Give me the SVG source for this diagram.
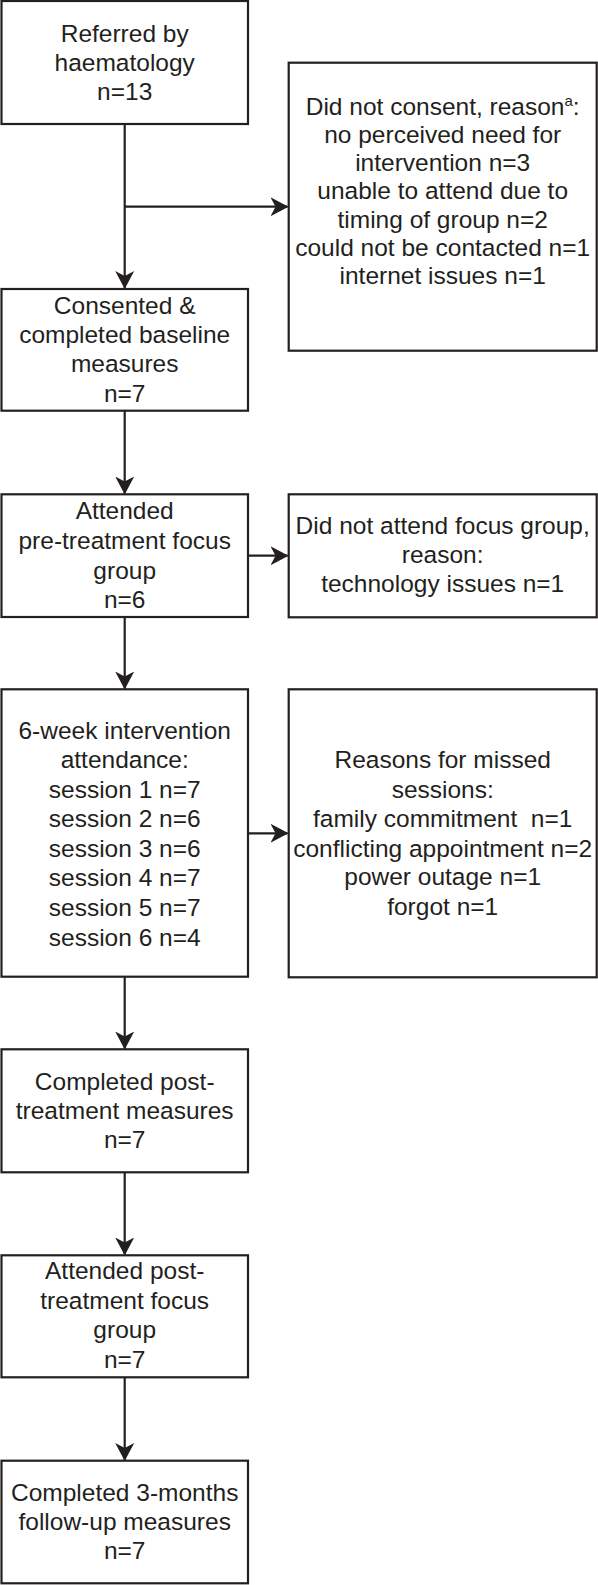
<svg xmlns="http://www.w3.org/2000/svg" width="598" height="1585" viewBox="0 0 598 1585">
<style>
.box{fill:#fff;stroke:#231f20;stroke-width:2.2}
.t{font-family:"Liberation Sans",Arial,sans-serif;font-size:24.5px;fill:#231f20;text-anchor:middle}
.c{stroke:#231f20;stroke-width:2.2;fill:none;marker-end:url(#ah)}
</style>
<defs>
<marker id="ah" markerUnits="userSpaceOnUse" viewBox="0 0 18 20" refX="17" refY="10" markerWidth="18" markerHeight="20" orient="auto">
<path d="M0,0.5 L18,10 L0,19.5 L5,10 Z" fill="#231f20"/>
</marker>
</defs>
<rect width="598" height="1585" fill="#fff"/>
<g id="connectors">
<line class="c" x1="124.7" y1="124" x2="124.7" y2="288"/>
<line class="c" x1="124.7" y1="206.7" x2="287.5" y2="206.7"/>
<line class="c" x1="124.7" y1="410.7" x2="124.7" y2="493.5"/>
<line class="c" x1="248" y1="555.7" x2="287.5" y2="555.7"/>
<line class="c" x1="124.7" y1="617" x2="124.7" y2="688.5"/>
<line class="c" x1="248" y1="833.3" x2="287.5" y2="833.3"/>
<line class="c" x1="124.7" y1="976.7" x2="124.7" y2="1048.5"/>
<line class="c" x1="124.7" y1="1172.3" x2="124.7" y2="1254.5"/>
<line class="c" x1="124.7" y1="1377.3" x2="124.7" y2="1460"/>
</g>
<g id="referred">
<rect class="box" x="1.5" y="1" width="246.5" height="123"/>
<text class="t" x="124.7" y="41.6">Referred by</text>
<text class="t" x="124.7" y="70.8">haematology</text>
<text class="t" x="124.7" y="100">n=13</text>
</g>
<g id="not-consent">
<rect class="box" x="288.7" y="62.7" width="308" height="288"/>
<text class="t" x="442.7" y="115">Did not consent, reason<tspan font-size="15" dy="-9">a</tspan><tspan dy="9">:</tspan></text>
<text class="t" x="442.7" y="142.8">no perceived need for</text>
<text class="t" x="442.7" y="171">intervention n=3</text>
<text class="t" x="442.7" y="199.3">unable to attend due to</text>
<text class="t" x="442.7" y="227.5">timing of group n=2</text>
<text class="t" x="442.7" y="256">could not be contacted n=1</text>
<text class="t" x="442.7" y="284.3">internet issues n=1</text>
</g>
<g id="consented">
<rect class="box" x="1.5" y="289" width="246.5" height="121.7"/>
<text class="t" x="124.7" y="314">Consented &amp;</text>
<text class="t" x="124.7" y="343.3">completed baseline</text>
<text class="t" x="124.7" y="372.4">measures</text>
<text class="t" x="124.7" y="401.7">n=7</text>
</g>
<g id="pre-focus">
<rect class="box" x="1.5" y="494.3" width="246.5" height="122.7"/>
<text class="t" x="124.7" y="519.3">Attended</text>
<text class="t" x="124.7" y="549.3">pre-treatment focus</text>
<text class="t" x="124.7" y="579">group</text>
<text class="t" x="124.7" y="608.3">n=6</text>
</g>
<g id="not-attend">
<rect class="box" x="288.7" y="494.3" width="308" height="123"/>
<text class="t" x="442.7" y="534">Did not attend focus group,</text>
<text class="t" x="442.7" y="562.7">reason:</text>
<text class="t" x="442.7" y="591.7">technology issues n=1</text>
</g>
<g id="intervention">
<rect class="box" x="1.5" y="689.3" width="246.5" height="287.4"/>
<text class="t" x="124.7" y="738.5">6-week intervention</text>
<text class="t" x="124.7" y="768">attendance:</text>
<text class="t" x="124.7" y="797.7">session 1 n=7</text>
<text class="t" x="124.7" y="827.2">session 2 n=6</text>
<text class="t" x="124.7" y="856.8">session 3 n=6</text>
<text class="t" x="124.7" y="886.3">session 4 n=7</text>
<text class="t" x="124.7" y="915.9">session 5 n=7</text>
<text class="t" x="124.7" y="945.6">session 6 n=4</text>
</g>
<g id="missed">
<rect class="box" x="288.7" y="689.3" width="308" height="288"/>
<text class="t" x="442.7" y="767.5">Reasons for missed</text>
<text class="t" x="442.7" y="797.7">sessions:</text>
<text class="t" x="442.7" y="826.9" xml:space="preserve">family commitment  n=1</text>
<text class="t" x="442.7" y="856.7">conflicting appointment n=2</text>
<text class="t" x="442.7" y="885.3">power outage n=1</text>
<text class="t" x="442.7" y="915">forgot n=1</text>
</g>
<g id="post-measures">
<rect class="box" x="1.5" y="1049.3" width="246.5" height="123"/>
<text class="t" x="124.7" y="1090">Completed post-</text>
<text class="t" x="124.7" y="1118.5">treatment measures</text>
<text class="t" x="124.7" y="1148.3">n=7</text>
</g>
<g id="post-focus">
<rect class="box" x="1.5" y="1255.3" width="246.5" height="122"/>
<text class="t" x="124.7" y="1279.3">Attended post-</text>
<text class="t" x="124.7" y="1308.5">treatment focus</text>
<text class="t" x="124.7" y="1338.3">group</text>
<text class="t" x="124.7" y="1368.3">n=7</text>
</g>
<g id="followup">
<rect class="box" x="1.5" y="1460.7" width="246.5" height="122.6"/>
<text class="t" x="124.7" y="1500.7">Completed 3-months</text>
<text class="t" x="124.7" y="1529.5">follow-up measures</text>
<text class="t" x="124.7" y="1559.3">n=7</text>
</g>
</svg>
